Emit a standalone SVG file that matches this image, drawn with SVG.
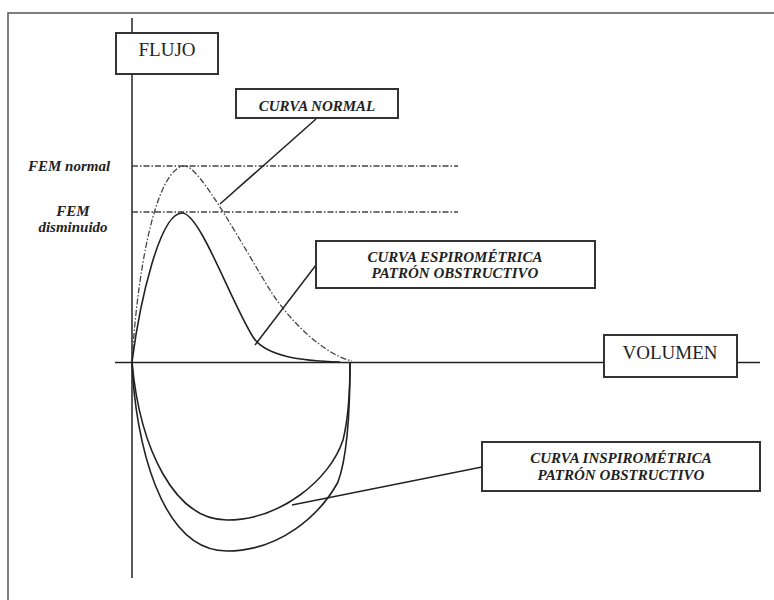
<svg xmlns="http://www.w3.org/2000/svg" width="774" height="600" viewBox="0 0 774 600">
<style>
.box{fill:#fff;stroke:#333;stroke-width:2}
.lbl{font-family:"Liberation Serif",serif;fill:#222;text-anchor:middle}
.ax{font-size:19px}
.it{font-size:15px;font-style:italic;font-weight:bold}
.axis{stroke:#222;stroke-width:1.5;fill:none}
.curve{stroke:#222;stroke-width:1.6;fill:none}
.dd{stroke:#444;stroke-width:1.3;fill:none;stroke-dasharray:6 2 1.5 2}
.lead{stroke:#222;stroke-width:1.5;fill:none}
</style>
<rect width="774" height="600" fill="#fff"/>
<path d="M8,600 V13 H774" fill="none" stroke="#555" stroke-width="1.5"/>
<g id="axes">
<line class="axis" x1="132" y1="18" x2="132" y2="578"/>
<line class="axis" x1="115" y1="362.5" x2="760" y2="362.5"/>
</g>
<g id="reference-lines">
<line class="dd" x1="132" y1="166" x2="458" y2="166"/>
<line class="dd" x1="132" y1="212" x2="458" y2="212"/>
</g>
<g id="curves">
<path id="curva-normal" class="dd" stroke-width="1.5" d="M132,362 C138,260 158,166 185,166 C200,166 245,250 270,290 C290,322 325,355 352,361"/>
<path id="curva-espirometrica" class="curve" d="M132,362 C140,300 160,213 182,213 C200,213 230,300 253,337 C265,356 300,361 340,362"/>
<path id="curva-inspirometrica" class="curve" stroke-width="1.8" d="M132,362 C140,450 175,520 227,520 C280,520 330,480 343,440 C348,420 350,390 350,363"/>
<path id="curva-inspiratoria-normal" class="curve" stroke-width="1.3" d="M132,362 C135,440 160,551 227,551 C280,551 320,515 338,482 C348,455 350,400 350,363"/>
</g>
<g id="connectors">
<line class="lead" x1="316" y1="119" x2="220" y2="204"/>
<line class="lead" x1="316" y1="265" x2="255" y2="345"/>
<line class="lead" x1="482" y1="467" x2="292" y2="505"/>
</g>
<g id="flujo">
<rect class="box" x="116" y="33" width="102" height="41"/>
<text class="lbl ax" x="167" y="56">FLUJO</text>
</g>
<g id="volumen">
<rect class="box" x="604" y="335" width="133" height="42"/>
<text class="lbl ax" x="670" y="359">VOLUMEN</text>
</g>
<g id="curva-normal-label">
<rect class="box" x="236" y="89" width="162" height="29"/>
<text class="lbl it" x="317" y="111">CURVA NORMAL</text>
</g>
<g id="espirometrica-label">
<rect class="box" x="316" y="241" width="279" height="47"/>
<text class="lbl it" x="455" y="262">CURVA ESPIROMÉTRICA</text>
<text class="lbl it" x="455" y="278">PATRÓN OBSTRUCTIVO</text>
</g>
<g id="inspirometrica-label">
<rect class="box" x="482" y="442" width="278" height="49"/>
<text class="lbl it" x="621" y="463">CURVA INSPIROMÉTRICA</text>
<text class="lbl it" x="621" y="480">PATRÓN OBSTRUCTIVO</text>
</g>
<g id="fem-normal">
<text class="lbl it" x="69" y="171">FEM normal</text>
</g>
<g id="fem-disminuido">
<text class="lbl it" x="73" y="216">FEM</text>
<text class="lbl it" x="73" y="232">disminuido</text>
</g>
</svg>
